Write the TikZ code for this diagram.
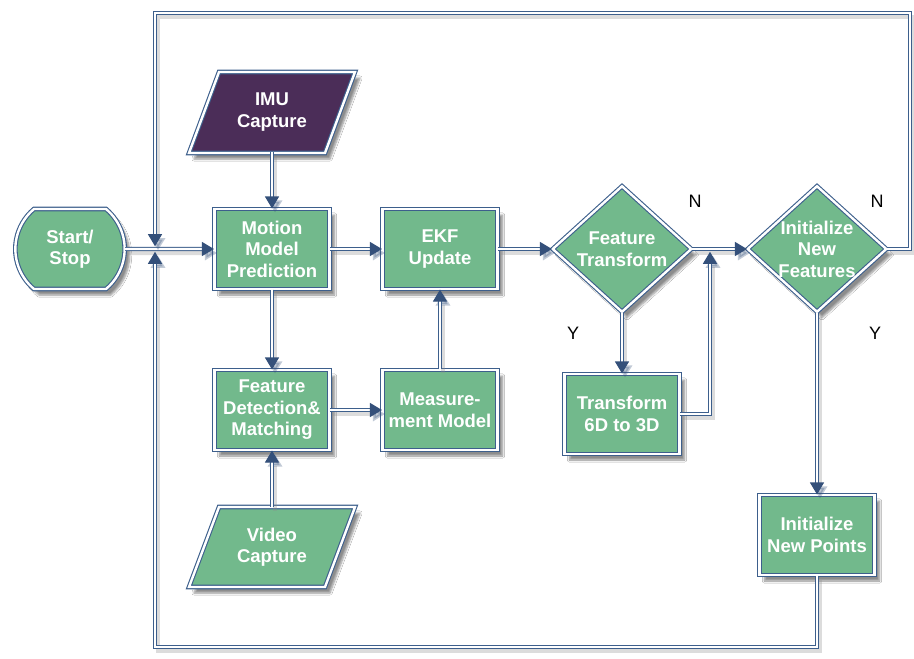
\documentclass[tikz,border=0pt]{standalone}
\usepackage{fontspec}
\setmainfont{Liberation Sans}
\usetikzlibrary{shapes.geometric,shapes.misc,arrows.meta,shadows.blur}
\definecolor{boxgreen}{HTML}{72B98C}
\definecolor{imupurple}{HTML}{4B2D58}
\definecolor{edgeblue}{HTML}{3D5F8C}
\definecolor{tipblue}{HTML}{34507A}
\begin{document}
\begin{tikzpicture}[x=1pt,y=-1pt,
  shad/.style={blur shadow={shadow xshift=5pt, shadow yshift=-6pt, shadow opacity=45, shadow blur steps=6}},
  outline/.style={draw=edgeblue, double=white, double distance=2.4pt, line width=1.1pt},
  lbl/.style={align=center, text=white, font=\bfseries\fontsize{18.5}{21.5}\selectfont},
  base/.style={outline, fill=boxgreen, lbl, shad},
  box/.style={base, rectangle, minimum width=115pt, minimum height=80pt, inner sep=1pt},
  dia/.style={base, diamond, minimum width=139pt, minimum height=126pt, inner sep=-12pt},
  paratext/.style={lbl, rectangle, minimum width=120pt, minimum height=80pt, inner sep=0pt},
  parashape/.style={outline, shad, line join=miter},
  term/.style={base, rounded rectangle, rounded rectangle arc length=100,
    minimum width=116pt, minimum height=80pt},
  conn/.style={draw=edgeblue, double=white, double distance=2.2pt, line width=1.1pt,
    -{Triangle[length=12pt,width=14pt,color=tipblue]},
    preaction={draw=black!45, double distance=0pt, line width=2pt, opacity=0.3,
      transform canvas={shift={(3pt,-4pt)}}}},
  yn/.style={font=\fontsize{18}{21}\selectfont, text=black}]
\useasboundingbox[fill=white] (0,0) rectangle (914,659);

% parallelogram outlines (drawn first, labels on top)
\path[parashape, fill=imupurple] (219,72) -- (355,72) -- (325,153) -- (189,153) -- cycle;
\path[parashape, fill=boxgreen] (219,507) -- (355,507) -- (325,587) -- (189,587) -- cycle;

% nodes
\node[term] (ss) at (70,249) {Start/\\Stop};
\node[paratext] (imu) at (272,112) {IMU\\Capture};
\node[box] (mmp) at (272,249) {Motion\\Model\\Prediction};
\node[box] (ekf) at (440,249) {EKF\\Update};
\node[dia] (ft) at (622,249) {Feature\\Transform};
\node[dia] (inf) at (817,249) {Initialize\\New\\Features};
\node[box] (fdm) at (272,410) {Feature\\Detection\&\\Matching};
\node[box] (mm) at (440,410) {Measure-\\ment Model};
\node[paratext] (vid) at (272,547) {Video\\Capture};
\node[box] (t63) at (622,414) {Transform\\6D to 3D};
\node[box] (inp) at (817,535) {Initialize\\New Points};

\node[yn] (n1) at (695,201) {N};
\node[yn] (n2) at (877,201) {N};
\node[yn] (y1) at (573,333) {Y};
\node[yn] (y2) at (875,333) {Y};

% helper coordinates
\coordinate (junc) at (155,249);
\coordinate (topR) at (910,13);
\coordinate (botL) at (155,647);
\coordinate (j2) at (710,249);

% connectors
\draw[conn] (ss) -- (mmp);
\draw[conn] (imu) -- (mmp);
\draw[conn] (mmp) -- (fdm);
\draw[conn] (vid) -- (fdm);
\draw[conn] (fdm) -- (mm);
\draw[conn] (mm) -- (ekf);
\draw[conn] (mmp) -- (ekf);
\draw[conn] (ekf) -- (ft);
\draw[conn] (ft) -- (inf);
\draw[conn] (ft) -- (t63);
\draw[conn, shorten >=2.8pt] (t63.east) -| (j2);
\draw[conn] (inf) -- (inp);
\draw[conn, shorten >=2.8pt] (inf.east) -| (topR) -| (junc);
\draw[conn, shorten >=2.8pt] (inp.south) |- (botL) -- (junc);
\end{tikzpicture}
\end{document}
